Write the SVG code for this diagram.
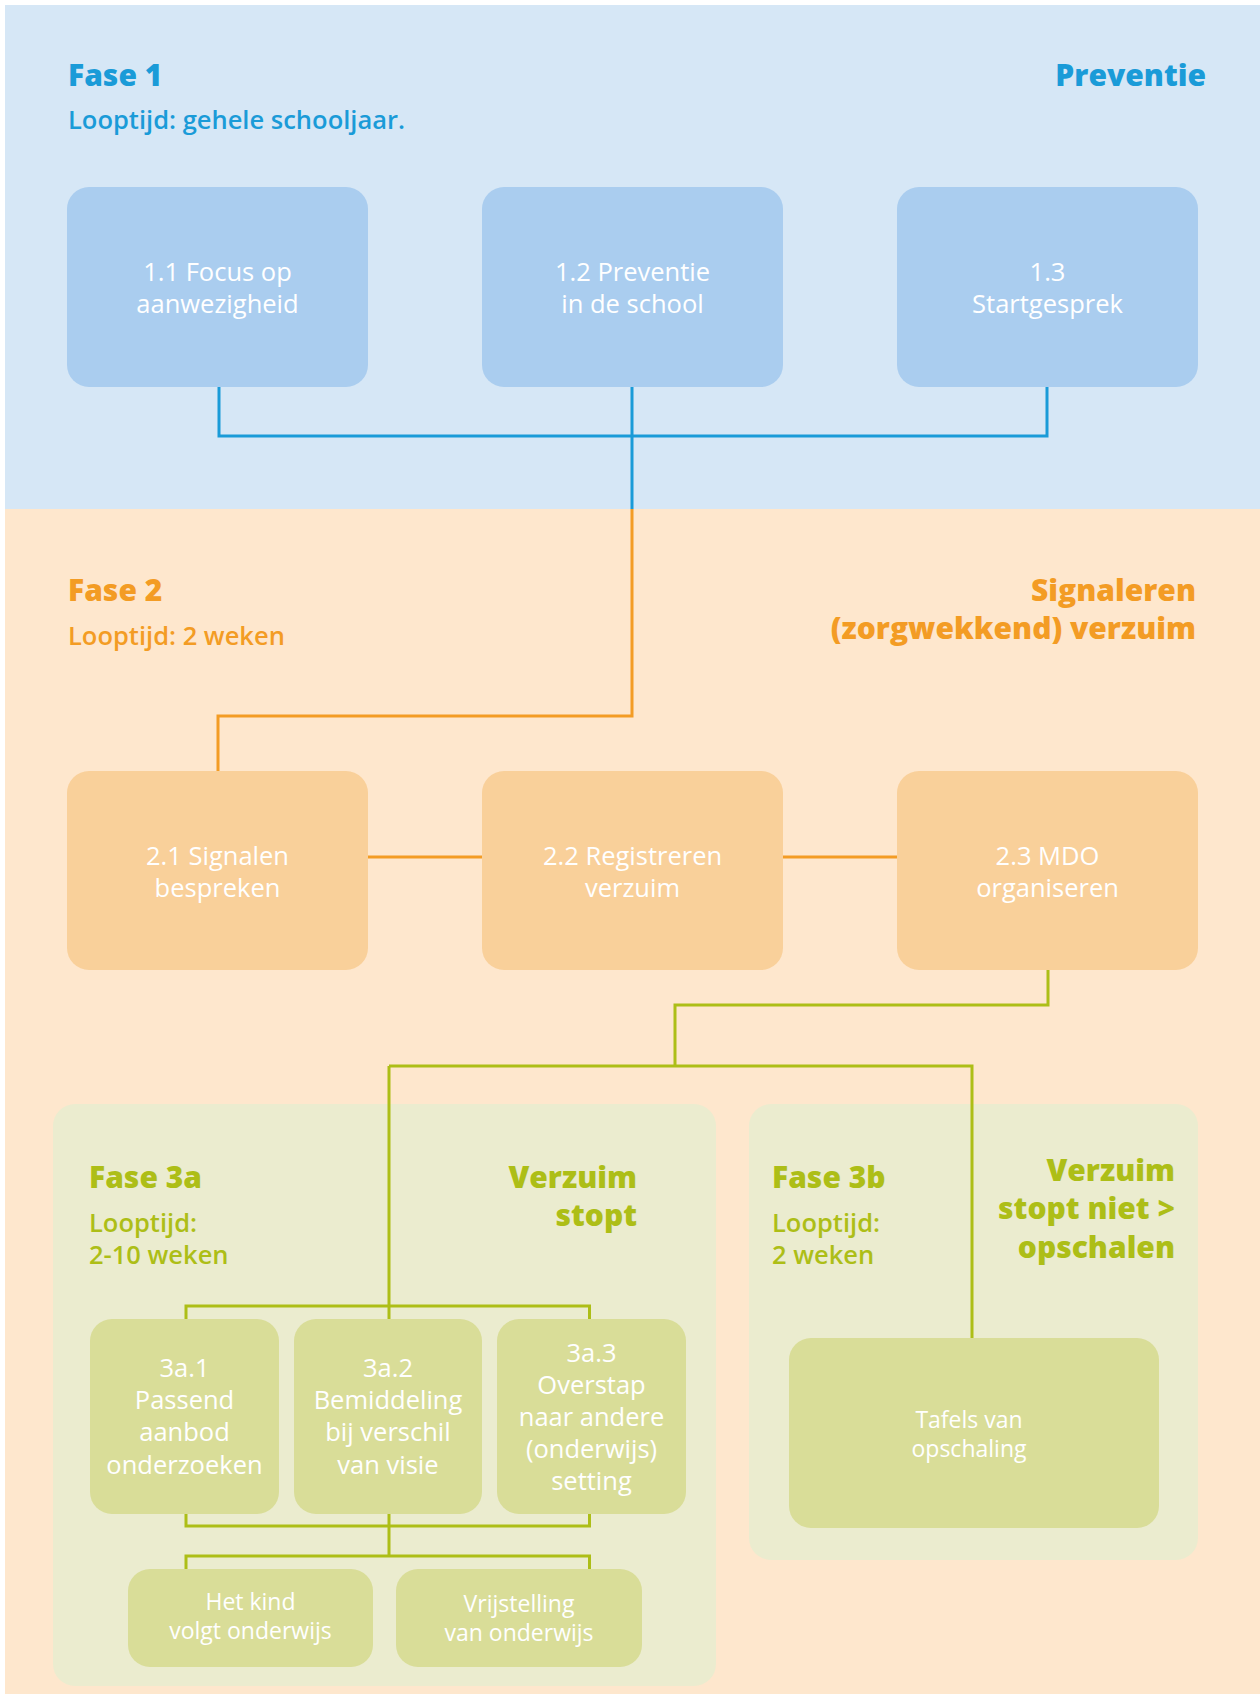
<svg xmlns="http://www.w3.org/2000/svg" width="1260" height="1694" viewBox="0 0 1260 1694">
<style>
.ttl{font-family:"Open Sans","Liberation Sans",sans-serif;font-weight:800;font-size:30px}
.sub{font-family:"Open Sans","Liberation Sans",sans-serif;font-weight:600;font-size:25.5px}
.bx{font-family:"Open Sans","Liberation Sans",sans-serif;font-weight:400;font-size:25.5px;fill:#ffffff;text-anchor:middle}
.sm{font-family:"Open Sans","Liberation Sans",sans-serif;font-weight:400;font-size:23px;fill:#ffffff;text-anchor:middle}
.blue{fill:#1a9bd8}.orange{fill:#f39c24}.green{fill:#adbe17}
.bb{fill:#aacdef}.ob{fill:#f9d09a}.gb{fill:#d9dd98}
.cb{fill:none;stroke:#1a9bd8;stroke-width:3}
.co{fill:none;stroke:#f39c24;stroke-width:3}
.cg{fill:none;stroke:#adbe17;stroke-width:3}
.r{text-anchor:end}
</style>
<rect x="0" y="0" width="1260" height="1694" fill="#ffffff"/>
<rect x="5" y="5" width="1255" height="504" fill="#d6e7f6"/>
<rect x="5" y="509" width="1255" height="1185" fill="#fee7cd"/>
<g id="fase1-labels">
<text class="ttl blue" x="68" y="86">Fase 1</text>
<text class="sub blue" x="68" y="129">Looptijd: gehele schooljaar.</text>
<text class="ttl blue r" x="1206" y="86">Preventie</text>
</g>
<g id="fase2-labels">
<text class="ttl orange" x="68" y="601">Fase 2</text>
<text class="sub orange" x="68" y="645">Looptijd: 2 weken</text>
<text class="ttl orange r" x="1196" y="601"><tspan x="1196" y="601">Signaleren</tspan><tspan x="1196" y="639">(zorgwekkend) verzuim</tspan></text>
</g>
<g id="panel-3a">
<rect x="53" y="1104" width="663" height="582" rx="22" fill="#ebeccf"/>
<text class="ttl green" x="89" y="1188">Fase 3a</text>
<text class="sub green" x="89" y="1232"><tspan x="89" y="1232">Looptijd:</tspan><tspan x="89" y="1264">2-10 weken</tspan></text>
<text class="ttl green r" x="637" y="1188"><tspan x="637" y="1188">Verzuim</tspan><tspan x="637" y="1226">stopt</tspan></text>
</g>
<g id="panel-3b">
<rect x="749" y="1104" width="449" height="456" rx="22" fill="#ebeccf"/>
<text class="ttl green" x="772" y="1188">Fase 3b</text>
<text class="sub green" x="772" y="1232"><tspan x="772" y="1232">Looptijd:</tspan><tspan x="772" y="1264">2 weken</tspan></text>
<text class="ttl green r" x="1175" y="1181"><tspan x="1175" y="1181">Verzuim</tspan><tspan x="1175" y="1219">stopt niet &gt;</tspan><tspan x="1175" y="1258">opschalen</tspan></text>
</g>
<g id="connectors">
<path class="cb" d="M219,387 V436 H1047 V387 M632,387 V509"/>
<path class="co" d="M632,509 V716 H218 V771 M368,857 H482 M783,857 H897"/>
<path class="cg" d="M1048,970 V1005 H675 V1066 M389,1066 H972 V1338 M389,1066 V1319 M186,1319 V1306 H589.5 V1319 M186,1514 V1526 H589.5 V1514 M389,1514 V1556 M186,1569 V1556 H589.5 V1569"/>
</g>
<g id="n1-1"><rect class="bb" x="67" y="187" width="301" height="200" rx="22"/>
<text class="bx"><tspan x="217.5" y="281">1.1 Focus op</tspan><tspan x="217.5" y="313">aanwezigheid</tspan></text></g>
<g id="n1-2"><rect class="bb" x="482" y="187" width="301" height="200" rx="22"/>
<text class="bx"><tspan x="632.5" y="281">1.2 Preventie</tspan><tspan x="632.5" y="313">in de school</tspan></text></g>
<g id="n1-3"><rect class="bb" x="897" y="187" width="301" height="200" rx="22"/>
<text class="bx"><tspan x="1047.5" y="281">1.3</tspan><tspan x="1047.5" y="313">Startgesprek</tspan></text></g>
<g id="n2-1"><rect class="ob" x="67" y="771" width="301" height="199" rx="22"/>
<text class="bx"><tspan x="217.5" y="865">2.1 Signalen</tspan><tspan x="217.5" y="897">bespreken</tspan></text></g>
<g id="n2-2"><rect class="ob" x="482" y="771" width="301" height="199" rx="22"/>
<text class="bx"><tspan x="632.5" y="865">2.2 Registreren</tspan><tspan x="632.5" y="897">verzuim</tspan></text></g>
<g id="n2-3"><rect class="ob" x="897" y="771" width="301" height="199" rx="22"/>
<text class="bx"><tspan x="1047.5" y="865">2.3 MDO</tspan><tspan x="1047.5" y="897">organiseren</tspan></text></g>
<g id="n3a-1"><rect class="gb" x="90" y="1319" width="189" height="195" rx="22"/>
<text class="bx"><tspan x="184.5" y="1377">3a.1</tspan><tspan x="184.5" y="1409">Passend</tspan><tspan x="184.5" y="1441">aanbod</tspan><tspan x="184.5" y="1474">onderzoeken</tspan></text></g>
<g id="n3a-2"><rect class="gb" x="294" y="1319" width="188" height="195" rx="22"/>
<text class="bx"><tspan x="388" y="1377">3a.2</tspan><tspan x="388" y="1409">Bemiddeling</tspan><tspan x="388" y="1441">bij verschil</tspan><tspan x="388" y="1474">van visie</tspan></text></g>
<g id="n3a-3"><rect class="gb" x="497" y="1319" width="189" height="195" rx="22"/>
<text class="bx"><tspan x="591.5" y="1362">3a.3</tspan><tspan x="591.5" y="1394">Overstap</tspan><tspan x="591.5" y="1426">naar andere</tspan><tspan x="591.5" y="1458">(onderwijs)</tspan><tspan x="591.5" y="1490">setting</tspan></text></g>
<g id="n-kind"><rect class="gb" x="128" y="1569" width="245" height="98" rx="22"/>
<text class="sm"><tspan x="250.5" y="1610">Het kind</tspan><tspan x="250.5" y="1639">volgt onderwijs</tspan></text></g>
<g id="n-vrij"><rect class="gb" x="396" y="1569" width="246" height="98" rx="22"/>
<text class="sm"><tspan x="519" y="1612">Vrijstelling</tspan><tspan x="519" y="1641">van onderwijs</tspan></text></g>
<g id="n-tafels"><rect class="gb" x="789" y="1338" width="370" height="190" rx="22"/>
<text class="sm"><tspan x="969" y="1428">Tafels van</tspan><tspan x="969" y="1457">opschaling</tspan></text></g>
</svg>
